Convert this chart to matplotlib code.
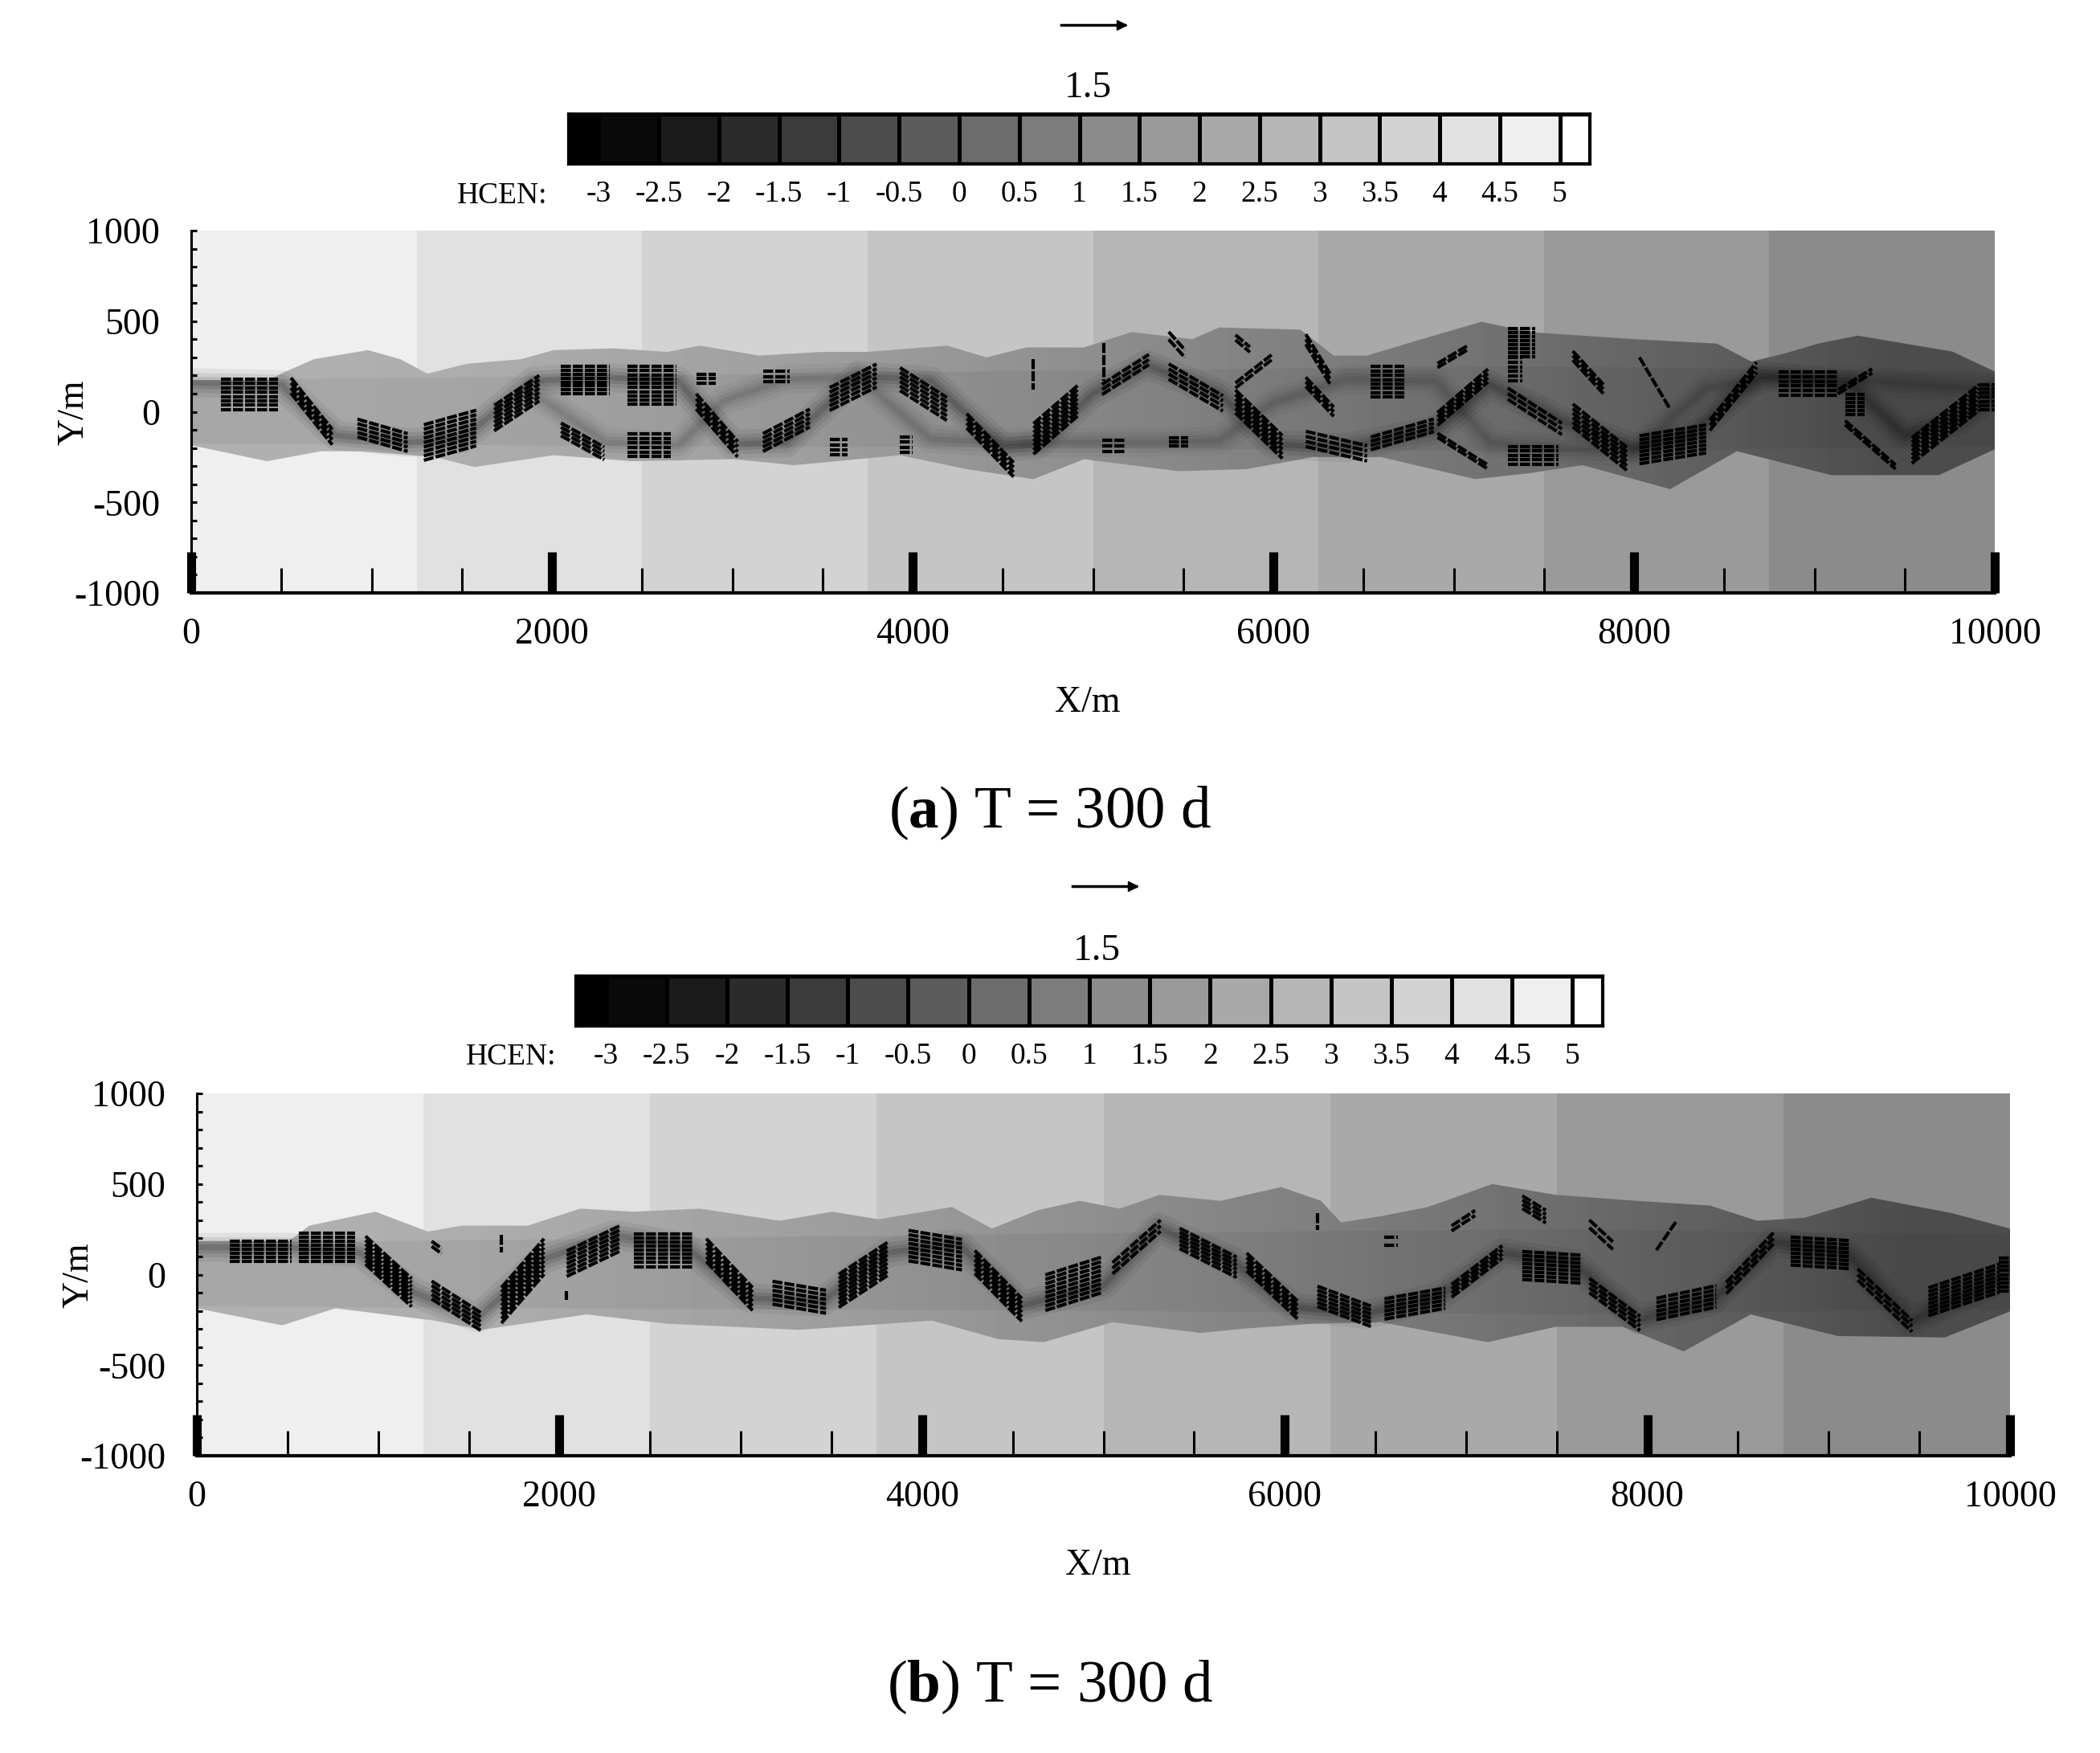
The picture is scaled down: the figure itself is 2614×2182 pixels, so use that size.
import numpy as np
import matplotlib
matplotlib.use('Agg')
import matplotlib.pyplot as plt
from matplotlib.colors import ListedColormap, BoundaryNorm
from matplotlib.patches import Polygon
from matplotlib.ticker import MultipleLocator

W, H = 2614, 2182

# colour scale
levels = [-3, -2.5, -2, -1.5, -1, -0.5, 0, 0.5, 1, 1.5, 2, 2.5, 3, 3.5, 4, 4.5, 5]
level_labels = ['-3', '-2.5', '-2', '-1.5', '-1', '-0.5', '0', '0.5', '1', '1.5', '2', '2.5', '3', '3.5', '4', '4.5', '5']
cell_colors = ['#000000', '#0a0a0a', '#1a1a1a', '#2b2b2b', '#3b3b3b', '#4c4c4c', '#5c5c5c', '#6c6c6c', '#7c7c7c',
               '#8b8b8b', '#9a9a9a', '#a9a9a9', '#b6b6b6', '#c5c5c5', '#d3d3d3', '#e1e1e1', '#efefef', '#ffffff']

# background head bands
band_edges = [0, 1250, 2500, 3750, 5000, 6250, 7500, 8750, 10000]
band_head = [4.75, 4.25, 3.75, 3.25, 2.75, 2.25, 1.75, 1.25]

# plume grey along x
plume_x = [0, 1250, 2500, 3750, 5000, 6250, 7500, 8750, 10000]
plume_grey = [176, 172, 164, 154, 142, 128, 114, 96, 76]
inner_x = [0, 2500, 5000, 7500, 10000]
inner_up = [175, 200, 230, 250, 220]
inner_lo = [-175, -190, -200, -220, -190]

# panel a: plume outline
a_up_x = [0, 430, 520, 680, 980, 1160, 1310, 1530, 1830, 2010, 2340, 2640, 2820, 3150, 3490, 3745, 4190, 4410, 4630,
          4950, 5215, 5550, 5700, 6150, 6335, 6520, 6820, 7155, 7415, 8010, 8460, 8650, 8830, 9020, 9240, 9765, 10000]
a_up_y = [175, 175, 220, 290, 340, 290, 210, 265, 290, 340, 350, 330, 365, 310, 330, 330, 365, 300, 355,
          355, 440, 400, 465, 453, 310, 310, 400, 497, 440, 400, 376, 277, 320, 376, 420, 332, 222]
a_lo_x = [0, 420, 720, 940, 1350, 1570, 2010, 2450, 3010, 3340, 3930, 4300, 4670, 4950, 5475, 5850, 6220, 6595,
          7120, 7415, 7715, 8200, 8570, 9095, 9690, 10000]
a_lo_y = [-185, -273, -218, -218, -250, -305, -240, -273, -262, -295, -240, -317, -372, -262, -328, -317, -250, -250,
          -372, -340, -295, -427, -218, -350, -350, -207]

# panel b: plume outline
b_up_x = [0, 510, 620, 985, 1275, 1460, 1825, 2115, 2410, 2775, 3215, 3505, 3760, 4165, 4385, 4640, 4870, 5090, 5310,
          5645, 5980, 6200, 6310, 6530, 6790, 7145, 7495, 7940, 8345, 8605, 8865, 9235, 9680, 10000]
b_up_y = [186, 186, 270, 347, 237, 270, 270, 364, 347, 364, 297, 347, 305, 373, 254, 356, 407, 364, 440,
          407, 483, 407, 288, 322, 373, 500, 440, 407, 381, 297, 313, 424, 339, 254]
b_lo_x = [0, 470, 765, 1310, 1570, 2150, 2590, 3320, 4055, 4420, 4670, 5050, 5535, 5790, 6160, 6530, 7120, 7495,
          7865, 8200, 8570, 9050, 9640, 10000]
b_lo_y = [-186, -280, -186, -254, -305, -220, -271, -305, -254, -356, -373, -263, -322, -297, -271, -263, -373, -288,
          -288, -424, -220, -339, -347, -203]

# dark ridges of the plume
a_ridge_x = [0, 500, 800, 1200, 1500, 1900, 2300, 2700, 3000, 3300, 3700, 4100, 4500, 4700, 5000, 5300, 5700, 6000,
             6400, 6900, 7200, 7600, 8000, 8300, 8700, 9200, 9500, 9800, 10000]
a_ridge_y = [160, 150, -130, -170, -150, 170, 190, 170, -180, -170, 200, 170, -200, -180, 100, 260, 100, -180,
             -200, -100, 150, -50, -200, -130, 200, 150, -130, -50, 100]
a_ridge2_x = [1900, 2300, 2700, 2950, 3300, 3700, 4100, 4500, 5000, 5300, 5700, 6000, 6400, 6900, 7200, 7600, 8000, 8400, 8800, 9300, 9700, 10000]
a_ridge2_y = [100, -170, -190, 60, 180, 190, -150, -170, -170, -170, -160, 50, 180, 170, -170, -210, -220, 130, 190, 170, 140, 120]
b_ridge_x = [0, 500, 900, 1200, 1550, 1900, 2300, 2700, 3050, 3450, 3800, 4200, 4550, 5000, 5300, 5700, 6050, 6450,
             6850, 7200, 7600, 7950, 8350, 8700, 9100, 9450, 9900, 10000]
b_ridge_y = [150, 150, 120, -100, -240, 80, 220, 150, -130, -150, 120, 170, -170, -60, 260, 80, -180, -220,
             -120, 120, 60, -250, -150, 180, 120, -260, -50, 30]

# panel a: velocity arrow clusters
a_x0 = [166, 553, 922, 1290, 1680, 2050, 2420, 2800, 3170, 3540, 3930, 2050, 2420, 2800, 3170, 3540, 3930, 4300, 4670,
        5050, 5420, 5420, 5790, 5790, 5790, 5050, 5420, 6180, 6180, 6180, 6540, 6540, 6910, 6910, 6910, 7300, 7300,
        7300, 7300, 7660, 7660, 8030, 8030, 8420, 8800, 9130, 9170, 9170, 9540, 9915, 4670, 5060]
a_y0 = [96, 145, -90, -170, -35, 175, 145, 182, 195, 70, 180, -97, -185, 57, -170, -197, -182, -50, -150,
        123, 222, 420, 410, 145, 57, -190, -167, 400, 165, -150, 165, -175, 255, -40, -130, 380, 235,
        100, -240, 310, -20, -210, 300, -75, 155, 110, -60, 40, -215, 80, 290, 380]
a_x1 = [480, 782, 1200, 1580, 1930, 2320, 2690, 2910, 3320, 3800, 4190, 2290, 2660, 3030, 3430, 3640, 4000, 4560, 4920,
        5310, 5720, 5510, 5870, 5990, 6050, 5180, 5530, 6315, 6335, 6520, 6725, 6890, 7080, 7190, 7190, 7450, 7380,
        7600, 7580, 7830, 7960, 8400, 8200, 8680, 9130, 9320, 9450, 9280, 9915, 10000, 4670, 5060]
a_y1 = [96, -140, -170, -90, 130, 175, 145, 182, 195, 200, 15, -230, -185, -207, -35, -197, -182, -320, 65,
        288, 46, 320, 343, 300, -195, -190, -167, 180, 0, -230, 165, -75, 355, 200, -305, 380, 235,
        -95, -240, 125, -260, -150, 15, 245, 155, 225, -305, 40, 80, 80, 120, 170]
a_w = [60, 30, 35, 70, 50, 55, 75, 18, 20, 45, 45, 25, 45, 30, 35, 30, 30, 28, 60,
       20, 30, 15, 10, 10, 45, 22, 16, 20, 18, 30, 60, 25, 8, 25, 8, 55, 45,
       22, 35, 18, 45, 55, 5, 20, 45, 8, 8, 40, 50, 50, 0, 0]

# panel b: velocity arrow clusters
b_x0 = [180, 563, 930, 1295, 1680, 2040, 2410, 2810, 3175, 3540, 3925, 4290, 4680, 5050, 5420, 5790, 6180, 6550, 6920,
        7310, 7680, 8050, 8435, 8790, 9160, 9550, 9940, 6920, 7310, 7680, 8050, 6550, 1295, 1680, 2040, 6180]
b_y0 = [130, 150, 135, -85, -170, 60, 135, 135, -100, -90, 160, 70, -100, 35, 200, 70, -120, -190, -90,
        50, -60, -190, -75, 130, 0, -150, 0, 255, 400, 280, 135, 185, 170, 220, -90, 340]
b_x1 = [525, 875, 1185, 1570, 1915, 2335, 2740, 3065, 3470, 3815, 4220, 4550, 4995, 5315, 5735, 6070, 6475, 6885, 7200,
        7640, 7960, 8380, 8695, 9120, 9460, 9940, 10000, 7050, 7440, 7810, 8160, 6625, 1350, 1680, 2040, 6180]
b_y1 = [130, 150, -100, -262, 100, 200, 135, -135, -150, 90, 110, -195, 0, 270, 40, -195, -230, -130, 125,
        30, -270, -120, 200, 110, -285, -20, 0, 340, 320, 160, 295, 185, 130, 120, -140, 245]
b_w = [40, 55, 55, 35, 70, 50, 65, 45, 45, 65, 60, 45, 70, 22, 40, 35, 40, 40, 25,
       55, 28, 42, 22, 55, 22, 55, 65, 10, 25, 15, 5, 15, 10, 0, 0, 0]


def px_axes(fig, left, top, right, bottom):
    return fig.add_axes([left / W, 1 - bottom / H, (right - left) / W, (bottom - top) / H])


def put_text(fig, x, y, s, **kw):
    kw.setdefault('ha', 'center')
    kw.setdefault('va', 'center')
    return fig.text(x / W, 1 - y / H, s, **kw)


def draw_colorbar(fig, box, hcen_x, hcen_y):
    ax = px_axes(fig, *box)
    edges = [levels[0] - 0.25] + levels + [levels[-1] + 0.25]
    cmap = ListedColormap(cell_colors)
    norm = BoundaryNorm([-10] + levels + [10], len(cell_colors))
    mids = [[(edges[i] + edges[i + 1]) / 2 for i in range(len(edges) - 1)]]
    ax.pcolormesh(edges, [0, 1], mids, cmap=cmap, norm=norm, edgecolors='k', linewidth=2.2)
    ax.set_xlim(edges[0], edges[-1])
    ax.set_ylim(0, 1)
    ax.set_yticks([])
    ax.set_xticks(levels)
    ax.set_xticklabels(level_labels, fontsize=27)
    ax.tick_params(axis='x', length=0, pad=15)
    for s in ax.spines.values():
        s.set_linewidth(3)
    put_text(fig, hcen_x, hcen_y, 'HCEN:', fontsize=27)


def draw_panel(fig, box, up_x, up_y, lo_x, lo_y, ridge_lines, x0, y0, x1, y1, w):
    ax = px_axes(fig, *box)
    cmap = ListedColormap(cell_colors)
    norm = BoundaryNorm([-10] + levels + [10], len(cell_colors))
    ax.pcolormesh(band_edges, [-1000, 1000], [band_head], cmap=cmap, norm=norm, zorder=0)

    # plume, clipped to its outline
    outline = list(zip(up_x, up_y)) + list(zip(lo_x[::-1], lo_y[::-1]))
    outer = Polygon(outline, closed=True, transform=ax.transData, fc='none', ec='none')
    ax.add_patch(outer)
    im = ax.imshow([plume_grey], extent=[0, 10000, -1000, 1000], cmap='gray', vmin=0, vmax=255,
                   aspect='auto', interpolation='bilinear', zorder=1)
    im.set_clip_path(outer)

    inner = list(zip(inner_x, inner_up)) + list(zip(inner_x[::-1], inner_lo[::-1]))
    p = Polygon(inner, closed=True, fc='k', ec='none', alpha=0.05, zorder=1.1)
    ax.add_patch(p)
    p.set_clip_path(outer)

    for rx, ry, alpha in ridge_lines:
        for lw, a in [(26, 0.06), (18, 0.08), (11, 0.10), (5, 0.12)]:
            ax.plot(rx, ry, color='k', lw=lw, alpha=a * alpha, solid_joinstyle='round', zorder=1.2)

    # arrow clusters
    for i in range(len(x0)):
        spread = w[i] * 1.4
        n = int(2 * spread / 22) + 1
        if n == 1:
            offs = [0]
        else:
            offs = np.linspace(-spread, spread, n)
        for d in offs:
            ax.plot([x0[i], x1[i]], [y0[i] + d, y1[i] + d], color='k', lw=3,
                    linestyle=(0, (3, 0.6)), zorder=1.5)

    ax.set_xlim(0, 10000)
    ax.set_ylim(-1000, 1000)
    ax.set_xticks(np.arange(0, 10001, 2000))
    ax.xaxis.set_minor_locator(MultipleLocator(500))
    ax.set_yticks([-1000, -500, 0, 500, 1000])
    ax.yaxis.set_minor_locator(MultipleLocator(100))
    ax.tick_params(axis='x', which='major', direction='in', length=37, width=8, labelsize=33, pad=22)
    ax.tick_params(axis='x', which='minor', direction='in', length=22, width=2.2)
    ax.tick_params(axis='y', which='both', direction='in', length=5, width=2.2)
    ax.tick_params(axis='y', which='major', labelsize=33, pad=28)
    ax.spines['top'].set_visible(False)
    ax.spines['right'].set_visible(False)
    ax.spines['bottom'].set_linewidth(3)
    ax.spines['left'].set_linewidth(2.2)
    return ax


plt.rcParams['font.family'] = ['Liberation Serif', 'DejaVu Serif']
plt.rcParams['axes.unicode_minus'] = False
plt.rcParams['mathtext.fontset'] = 'custom'
plt.rcParams['mathtext.bf'] = 'Liberation Serif:bold'
plt.rcParams['mathtext.rm'] = 'Liberation Serif'

fig = plt.figure(figsize=(W / 100, H / 100), dpi=100, facecolor='white')

# panel a
put_text(fig, 1354, 110, '1.5', fontsize=34)
fig.add_artist(plt.Line2D([1321 / W, 1400 / W], [1 - 31 / H, 1 - 31 / H], color='k', lw=2.5))
fig.add_artist(plt.Line2D([1396 / W], [1 - 31 / H], marker='>', ms=9, color='k'))
draw_colorbar(fig, (708, 142, 1979, 204), 625, 244)
draw_panel(fig, (238, 287, 2483, 738), a_up_x, a_up_y, a_lo_x, a_lo_y,
           [(a_ridge_x, a_ridge_y, 1.0), (a_ridge2_x, a_ridge2_y, 0.6)], a_x0, a_y0, a_x1, a_y1, a_w)
put_text(fig, 1354, 875, 'X/m', fontsize=33)
put_text(fig, 92, 513, 'Y/m', fontsize=33, rotation=90)
put_text(fig, 1307, 1012, '($\\mathbf{a}$) T = 300 d', fontsize=54)

# panel b
put_text(fig, 1365, 1184, '1.5', fontsize=34)
fig.add_artist(plt.Line2D([1335 / W, 1414 / W], [1 - 1103 / H, 1 - 1103 / H], color='k', lw=2.5))
fig.add_artist(plt.Line2D([1410 / W], [1 - 1103 / H], marker='>', ms=9, color='k'))
draw_colorbar(fig, (717, 1215, 1995, 1277), 636, 1316)
draw_panel(fig, (245, 1361, 2502, 1812), b_up_x, b_up_y, b_lo_x, b_lo_y,
           [(b_ridge_x, b_ridge_y, 1.0)], b_x0, b_y0, b_x1, b_y1, b_w)
put_text(fig, 1367, 1949, 'X/m', fontsize=33)
put_text(fig, 98, 1587, 'Y/m', fontsize=33, rotation=90)
put_text(fig, 1307, 2100, '($\\mathbf{b}$) T = 300 d', fontsize=54)

fig.savefig('out.png', dpi=100)
